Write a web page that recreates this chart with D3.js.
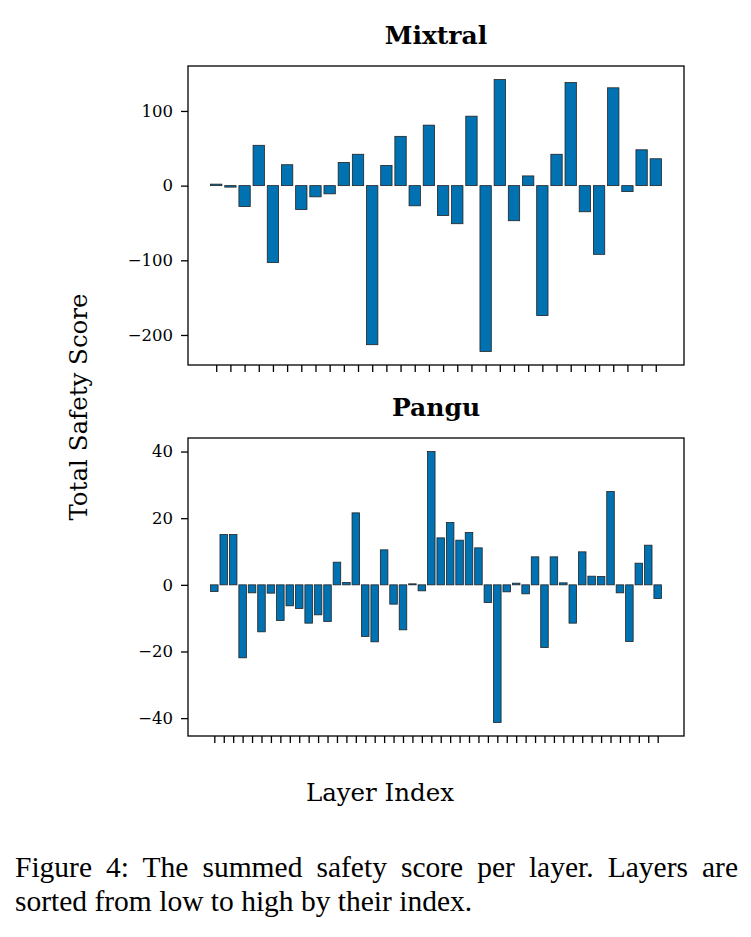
<!DOCTYPE html>
<html>
<head>
<meta charset="utf-8">
<script src="https://cdn.jsdelivr.net/npm/d3@7"></script>
<style>
  body { margin: 0; background: #fff; }
  #caption {
    position: absolute; left: 15px; top: 850px; width: 723px;
    font-family: "Liberation Serif", "Times New Roman", serif;
    font-size: 29.5px; line-height: 34px; color: #000;
  }
  #caption .l1 { display: block; text-align: justify; text-align-last: justify; white-space: nowrap; }
</style>
</head>
<body>
<svg id="chart" width="751" height="840"></svg>
<div id="caption"><span class="l1">Figure 4: The summed safety score per layer. Layers are</span>sorted from low to high by their index.</div>
<script>
// summed safety score per layer
const mixtralScores = [2, -2, -28, 54, -103, 28, -32, -15, -11, 31, 42, -213, 27, 66, -27, 81,
    -40, -51, 93, -222, 142, -47, 13, -174, 42, 138, -35, -92, 131, -8, 48, 36];
const panguScores = [-2, 15.1, 15.1, -21.9, -2.4, -14.1, -2.5, -10.7, -6.3, -7.1, -11.5, -9,
    -11, 6.8, 0.7, 21.6, -15.5, -17.1, 10.5, -5.8, -13.5, 0.3, -1.8, 40,
    14.1, 18.7, 13.4, 15.7, 11.1, -5.3, -41.3, -2.1, 0.5, -2.7, 8.4, -18.8,
    8.4, 0.6, -11.5, 9.9, 2.6, 2.5, 28, -2.4, -17, 6.5, 11.9, -4.1];
const mixtralTicks = [-200, -100, 0, 100];
const panguTicks = [-40, -20, 0, 20, 40];

const svg = d3.select('#chart');
const serif = '"DejaVu Serif", serif';
const left = 188, right = 684;

// un panneau par modèle
function drawPanel(title, scores, ticks, top, bottom, titleY) {
    const layers = d3.range(scores.length);
    // marges de 5 % comme matplotlib
    const lo = -0.4, hi = scores.length - 1 + 0.4;
    const padX = (hi - lo) * 0.05;
    const x = d3.scaleLinear().domain([lo - padX, hi + padX]).range([left, right]);

    const yMin = d3.min(scores), yMax = d3.max(scores);
    const padY = (yMax - yMin) * 0.05;
    const y = d3.scaleLinear().domain([yMin - padY, yMax + padY]).range([bottom, top]);

    const g = svg.append('g');

    g.selectAll('rect.bar')
     .data(layers)
     .enter().append('rect')
     .attr('class', 'bar')
     .attr('x', i => x(i - 0.4))
     .attr('width', x(0.8) - x(0))
     .attr('y', i => y(Math.max(0, scores[i])))
     .attr('height', i => Math.abs(y(scores[i]) - y(0)))
     .attr('fill', '#0072b2')
     .attr('stroke', '#222')
     .attr('stroke-width', 0.8);

    // Axe Y
    const yAxis = g.append('g')
     .attr('transform', `translate(${left},0)`)
     .call(d3.axisLeft(y).tickValues(ticks).tickSize(7).tickPadding(8)
        .tickFormat(d => d3.format('d')(d).replace('-', '\u2212')));
    yAxis.select('.domain').remove();
    yAxis.selectAll('line').attr('stroke', '#000').attr('stroke-width', 1.3);
    yAxis.selectAll('text').attr('font-family', serif).attr('font-size', 16.5).attr('fill', '#000');

    // Axe X : ticks sans labels
    const xAxis = g.append('g')
     .attr('transform', `translate(0,${bottom})`)
     .call(d3.axisBottom(x).tickValues(layers).tickSize(7).tickFormat(''));
    xAxis.select('.domain').remove();
    xAxis.selectAll('line').attr('stroke', '#000').attr('stroke-width', 1.3);

    g.append('rect')
     .attr('x', left).attr('y', top)
     .attr('width', right - left).attr('height', bottom - top)
     .attr('fill', 'none').attr('stroke', '#000').attr('stroke-width', 1.3);

    g.append('text')
     .attr('x', (left + right) / 2)
     .attr('y', titleY)
     .attr('text-anchor', 'middle')
     .attr('font-family', serif).attr('font-weight', 'bold').attr('font-size', 25)
     .text(title);
}

drawPanel('Mixtral', mixtralScores, mixtralTicks, 66, 365, 44);
drawPanel('Pangu', panguScores, panguTicks, 438, 736, 416);

svg.append('text')
   .attr('transform', 'translate(87,407) rotate(-90)')
   .attr('text-anchor', 'middle')
   .attr('font-family', serif).attr('font-size', 24.5)
   .text('Total Safety Score');

svg.append('text')
   .attr('x', 380).attr('y', 801)
   .attr('text-anchor', 'middle')
   .attr('font-family', serif).attr('font-size', 24.5)
   .text('Layer Index');
</script>
</body>
</html>
